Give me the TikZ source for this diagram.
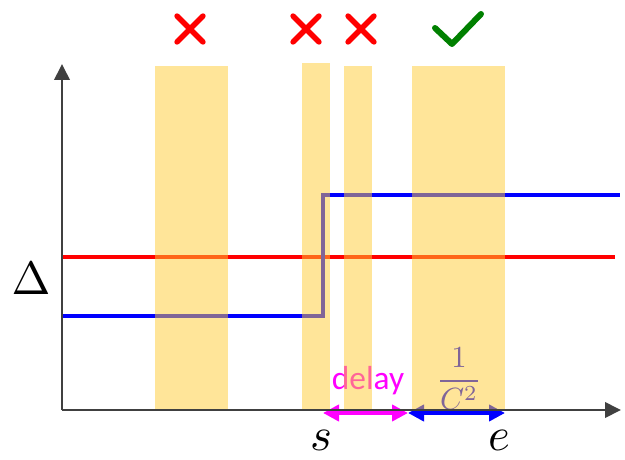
\documentclass[tikz,border=0pt]{standalone}
\usepackage{amsmath}
\usepackage{graphicx}
\usepackage{fontspec}
\usepackage{xcolor}
\usetikzlibrary{arrows.meta}
\newfontfamily\labelfont{Carlito}
\definecolor{window}{RGB}{255,203,51}
\definecolor{okgreen}{RGB}{0,128,0}
\definecolor{axisgray}{RGB}{64,64,64}
\definecolor{delaypink}{RGB}{255,0,255}
\newcommand{\bigmath}[2]{\scalebox{#1}{$#2$}}

\begin{document}
\begin{tikzpicture}[x=0.75pt, y=-0.75pt,
    axis/.style={draw=axisgray, line width=2pt, -{Triangle[length=12pt, width=11.5pt]}},
    level/.style={line width=2.3pt},
    win/.style={fill=window, fill opacity=0.5},
    cross/.style={draw=red, line width=4pt, line cap=round},
    span/.style={line width=3pt, {Triangle[length=12pt, width=12pt]}-{Triangle[length=12pt, width=12pt]}},
    big/.style={inner sep=0pt}]
  \useasboundingbox (0,0) rectangle (625,460);

  % axes corner and ends
  \coordinate (O) at (62,410);
  \coordinate (ytop) at (62,64);
  \coordinate (xend) at (621,410);

  % the two levels
  \draw[level, red] (62,257) -- (615,257);
  \draw[level, blue] (62,316) -- (323,316) -- (323,195) -- (620,195);

  % delay and 1/C^2 spans under the axis
  \coordinate (s) at (323,413);
  \coordinate (m) at (408,413);
  \coordinate (e) at (505,413);
  \draw[span, delaypink] (s) -- (m);
  \draw[span, blue] (m) -- (e);
  \node[font=\labelfont\fontsize{25}{30}\selectfont, text=delaypink, inner sep=0pt]
    (delay) at (368,381) {delay};
  \node[text=blue, inner sep=0pt] (frac) at (459,379) {\bigmath{2.3}{\dfrac{1}{C^2}}};

  % the windows
  \fill[win] (155,66) rectangle (228,409);
  \fill[win] (302,63) rectangle (330,409);
  \fill[win] (344,66) rectangle (372,409);
  \fill[win] (412,66) rectangle (505,409);

  \draw[axis] (O) -- (ytop);
  \draw[axis] (O) -- (xend);

  % labels
  \node[big] (delta) at (31,279) {\bigmath{3.5}{\Delta}};
  \node[big] (slab) at (321,440) {\bigmath{3.5}{s}};
  \node[big] (elab) at (499,440) {\bigmath{3.5}{e}};

  % rejected and accepted windows
  \foreach \cx in {190,306,361}
    \draw[cross] (\cx-13,16) -- (\cx+13,42) (\cx-13,42) -- (\cx+13,16);
  \draw[okgreen, line width=4.5pt, line cap=round, line join=round]
    (435,28) -- (452,44) -- (481,14);
\end{tikzpicture}
\end{document}
